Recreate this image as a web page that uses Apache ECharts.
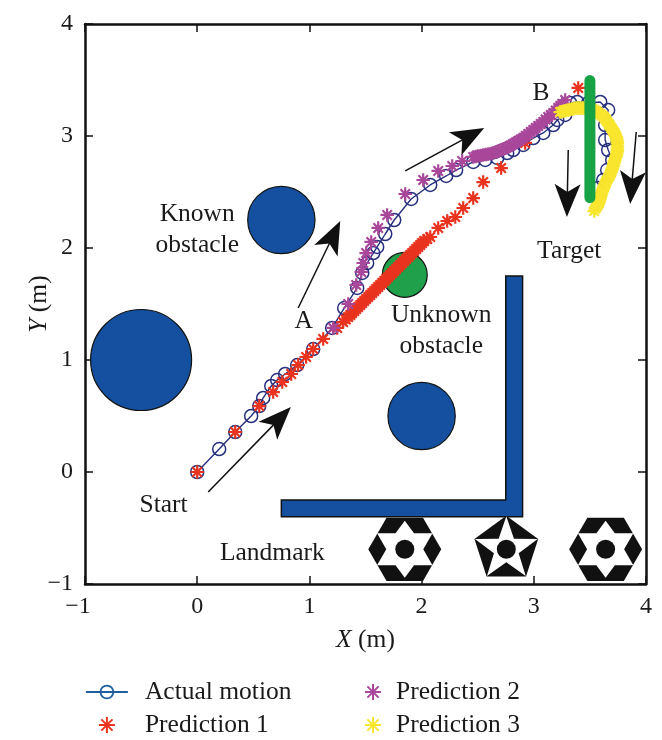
<!DOCTYPE html>
<html>
<head>
<meta charset="utf-8">
<style>html,body{margin:0;background:#fff;}#chart{width:662px;height:740px;}</style>
<script src="https://cdn.jsdelivr.net/npm/echarts@6/dist/echarts.min.js"></script>
</head>
<body>
<div id="chart"></div>
<script>
//	trajectories, metres
var actualMotion = [[0,0],[.196,.205],[.339,.357],[.481,.5],[.553,.589],[.588,.661],[.66,.768],[.713,.821],[.784,.875],[.891,.955],[1.034,1.098],[1.203,1.286],[1.31,1.464],[1.426,1.643],[1.471,1.777],[1.515,1.866],[1.569,1.955],[1.604,2.009],[1.676,2.125],[1.756,2.25],[1.907,2.438],[2.077,2.563],[2.219,2.643],[2.308,2.696],[2.46,2.768],[2.567,2.786],[2.674,2.804],[2.763,2.848],[2.816,2.875],[2.906,2.92],[2.995,2.982],[3.084,3.027],[3.173,3.098],[3.209,3.143],[3.28,3.188],[3.324,3.295],[3.387,3.304],[3.485,3.295],[3.592,3.304],[3.663,3.232],[3.636,3.098],[3.636,2.964],[3.663,2.875],[3.699,2.786],[3.654,2.696],[3.619,2.607],[3.574,2.536]];
var prediction1 = [[0,0],[.339,.357],[.553,.589],[.677,.714],[.758,.804],[.838,.875],[.9,.955],[.971,1.027],[1.034,1.098],[1.123,1.188],[1.248,1.286],[1.301,1.339],[1.325,1.362],[1.346,1.384],[1.365,1.402],[1.381,1.42],[1.4,1.438],[1.417,1.455],[1.435,1.473],[1.453,1.491],[1.47,1.509],[1.488,1.527],[1.506,1.545],[1.524,1.563],[1.542,1.58],[1.56,1.598],[1.578,1.616],[1.595,1.634],[1.613,1.652],[1.631,1.67],[1.649,1.688],[1.667,1.705],[1.685,1.723],[1.702,1.741],[1.72,1.759],[1.738,1.777],[1.756,1.795],[1.774,1.813],[1.792,1.83],[1.809,1.848],[1.827,1.866],[1.845,1.884],[1.863,1.902],[1.881,1.92],[1.899,1.938],[1.916,1.955],[1.934,1.973],[1.952,1.991],[1.97,2.009],[1.988,2.027],[2.005,2.045],[2.023,2.063],[2.05,2.08],[2.077,2.098],[2.148,2.179],[2.228,2.241],[2.3,2.277],[2.371,2.357],[2.46,2.446],[2.549,2.589],[2.709,2.714],[2.923,2.938],[3.396,3.429]];
var prediction2 = [[1.212,1.286],[1.346,1.5],[1.417,1.67],[1.462,1.786],[1.48,1.866],[1.506,1.955],[1.551,2.054],[1.613,2.179],[1.693,2.295],[1.854,2.482],[2.014,2.607],[2.148,2.688],[2.273,2.732],[2.362,2.777],[2.46,2.813],[2.482,2.817],[2.504,2.821],[2.527,2.826],[2.549,2.83],[2.572,2.835],[2.594,2.839],[2.616,2.844],[2.638,2.848],[2.661,2.857],[2.683,2.866],[2.705,2.875],[2.727,2.884],[2.75,2.893],[2.772,2.902],[2.794,2.915],[2.816,2.929],[2.839,2.942],[2.861,2.955],[2.884,2.969],[2.906,2.982],[2.928,3.0],[2.95,3.018],[2.973,3.036],[2.995,3.054],[3.017,3.071],[3.039,3.089],[3.062,3.107],[3.084,3.125],[3.106,3.147],[3.128,3.17],[3.151,3.188],[3.173,3.205],[3.195,3.228],[3.217,3.25],[3.235,3.268],[3.253,3.286],[3.28,3.321]];
var prediction3 = [[3.235,3.214],[3.253,3.218],[3.271,3.223],[3.289,3.228],[3.307,3.232],[3.325,3.237],[3.342,3.241],[3.36,3.246],[3.378,3.25],[3.396,3.25],[3.414,3.25],[3.432,3.25],[3.449,3.25],[3.467,3.25],[3.485,3.25],[3.502,3.246],[3.52,3.241],[3.538,3.232],[3.556,3.223],[3.574,3.21],[3.592,3.196],[3.605,3.186],[3.62,3.175],[3.632,3.16],[3.645,3.145],[3.655,3.125],[3.67,3.105],[3.68,3.09],[3.692,3.07],[3.705,3.05],[3.718,3.03],[3.727,3.01],[3.736,2.99],[3.741,2.97],[3.745,2.95],[3.745,2.933],[3.745,2.911],[3.745,2.888],[3.745,2.866],[3.741,2.844],[3.736,2.821],[3.727,2.799],[3.718,2.777],[3.713,2.755],[3.709,2.732],[3.7,2.71],[3.692,2.688],[3.683,2.665],[3.674,2.643],[3.66,2.62],[3.647,2.598],[3.638,2.576],[3.629,2.554],[3.62,2.531],[3.611,2.509],[3.602,2.487],[3.597,2.464],[3.592,2.442],[3.585,2.42],[3.578,2.397],[3.565,2.375],[3.55,2.352],[3.538,2.33]];

//	scene
var obstacleX = [-0.5, 0.75, 2];
var obstacleY = [1, 2.25, 0.5];
var obstacleR = [0.45, 0.3, 0.3];
var unknownObstacle = [[1.85, 1.76, 0.2]];
var wallX = [0.75, 2.75, 2.75, 2.9, 2.9, 0.75];
var wallY = [-0.25, -0.25, 1.75, 1.75, -0.4, -0.4];
var targetBar = [[3.5, 3.495], [3.5, 2.45]];
var landmarkX = [1.85, 2.755, 3.64];
var landmarkY = [-0.69, -0.69, -0.69];
var landmarkKind = ['hex', 'penta', 'hex'];
var arrowFrom = [[.098,-.179],[.9,1.464],[1.854,2.688],[3.307,2.875],[3.913,3.036]];
var arrowTo = [[.835,.58],[1.275,2.241],[2.558,3.071],[3.295,2.277],[3.859,2.393]];
var noteText = ['Known\nobstacle', 'Unknown\nobstacle', 'A', 'B', 'Target', 'Start', 'Landmark'];
var noteX = [0, 2.175, .95, 3.065, 3.316, -.3, .67];
var noteY = [2.16, 1.26, 1.35, 3.38, 1.97, -.3, -.725];

var fontName = '"Liberation Serif", serif';
var textColor = '#1a1a1a';
var blue = '#14509f';
var star = 'path://M0 -10L0 10M-10 0L10 0M-7 -7L7 7M-7 7L7 -7';

var myChart = echarts.init(document.getElementById('chart'));

function starSeries(name, data, color) {
	return {
		name: name,
		type: 'scatter',
		z: 2,
		data: data,
		symbol: star,
		symbolSize: 13.5,
		itemStyle: {color: 'rgba(0,0,0,0)', borderColor: color, borderWidth: 2.2, opacity: 1},
		silent: true
	};
}

//	white star inside a hexagon, side tips reach further than top and bottom ones
function hexagram(cx, cy) {
	var pts = [];
	for(var i=0; i<12; i++) {
		var a = -Math.PI/2 + i*Math.PI/6;
		var r = (i%6 == 0) ? 28.5 : (i%2 == 0 ? 32 : 18.5);
		pts.push([cx + r*Math.cos(a), cy + r*Math.sin(a)]);
	}
	return pts;
}

function radial(cx, cy, n, r1, r2) {
	var pts = [];
	for(var i=0; i<n; i++) {
		var a = -Math.PI/2 + i*2*Math.PI/n;
		var r = (i%2 == 0) ? r1 : r2;
		pts.push([cx + r*Math.cos(a), cy + r*Math.sin(a)]);
	}
	return pts;
}

function hexagon(cx, cy, r) {
	var pts = [];
	for(var i=0; i<6; i++) {
		pts.push([cx + r*Math.cos(i*Math.PI/3), cy + r*Math.sin(i*Math.PI/3)]);
	}
	return pts;
}

function landmarkItem(params, api) {
	var c = api.coord([api.value(0), api.value(1)]);
	var kind = landmarkKind[params.dataIndex];
	var outer = kind == 'hex' ? hexagon(c[0], c[1], 36.5) : radial(c[0], c[1], 5, 33.5, 33.5);
	var inner = kind == 'hex' ? hexagram(c[0], c[1]) : radial(c[0], c[1], 10, 33, 13);
	return {type: 'group', children: [
		{type: 'polygon', shape: {points: outer}, style: {fill: '#111'}},
		{type: 'polygon', shape: {points: inner}, style: {fill: '#fff'}},
		{type: 'circle', shape: {cx: c[0], cy: c[1], r: 9.5}, style: {fill: '#111'}}
	]};
}

function circleItem(color) {
	return function(params, api) {
		var c = api.coord([api.value(0), api.value(1)]);
		var r = api.size([api.value(2), 0])[0];
		return {type: 'circle', shape: {cx: c[0], cy: c[1], r: r}, style: {fill: color, stroke: '#111', lineWidth: 1.2}};
	};
}

function arrowItem(params, api) {
	var a = api.coord([api.value(0), api.value(1)]);
	var b = api.coord([api.value(2), api.value(3)]);
	var d = Math.sqrt((b[0]-a[0])*(b[0]-a[0]) + (b[1]-a[1])*(b[1]-a[1]));
	var ux = (b[0]-a[0])/d, uy = (b[1]-a[1])/d;
	return {type: 'group', children: [
		{type: 'line', shape: {x1: a[0], y1: a[1], x2: b[0]-20*ux, y2: b[1]-20*uy}, style: {stroke: '#111', lineWidth: 1.5}},
		{type: 'polygon', shape: {points: [
			[b[0], b[1]],
			[b[0]-33*ux-13*uy, b[1]-33*uy+13*ux],
			[b[0]-25*ux, b[1]-25*uy],
			[b[0]-33*ux+13*uy, b[1]-33*uy-13*ux]
		]}, style: {fill: '#111'}}
	]};
}

function tickLabel(v) {
	return v < 0 ? '\u2212' + Math.abs(v) : v;
}

var legendCommon = {orient: 'vertical', top: 679, height: 61, padding: 0, itemHeight: 16, itemGap: 7};
var lineKey = {color: 'rgba(0,0,0,0)', borderColor: '#1f5f9e', borderWidth: 1.8};

var option = {
	animation: false,
	backgroundColor: '#fff',
	textStyle: {fontFamily: fontName, color: textColor},
	grid: {left: 85, top: 24, width: 561, height: 560},
	legend: [
		Object.assign({}, legendCommon, {
			left: 85, itemWidth: 42,
			textStyle: {fontFamily: fontName, fontSize: 25.5, color: textColor, padding: [0, 0, 0, 12]},
			data: [
				{name: 'Actual motion', itemStyle: lineKey, lineStyle: {color: '#1f5f9e', width: 1.8}},
				{name: 'Prediction 1', icon: star}
			]
		}),
		Object.assign({}, legendCommon, {
			left: 364, itemWidth: 36,
			textStyle: {fontFamily: fontName, fontSize: 25.5, color: textColor},
			data: [
				{name: 'Prediction 2', icon: star},
				{name: 'Prediction 3', icon: star}
			]
		})
	],
	xAxis: [
		{
			type: 'value', min: -1, max: 4, interval: 1, position: 'bottom',
			name: '{i|X} (m)', nameLocation: 'middle', nameGap: 43,
			nameTextStyle: {fontFamily: fontName, fontSize: 25.5, color: textColor,
				rich: {i: {fontFamily: fontName, fontStyle: 'italic', fontSize: 25.5, color: textColor}}},
			axisLine: {onZero: false, lineStyle: {color: '#111', width: 2.5}},
			axisTick: {inside: true, length: 8, lineStyle: {color: '#111', width: 1.5}},
			axisLabel: {fontFamily: fontName, fontSize: 24, color: textColor, margin: 11,
				formatter: function(v) {return v < 0 ? '{neg|' + tickLabel(v) + '}' : v;},
				rich: {neg: {fontFamily: fontName, fontSize: 24, color: textColor, padding: [0, 14, 0, 0]}}},
			splitLine: {show: false}
		},
		{
			type: 'value', min: -1, max: 4, interval: 1, position: 'top',
			axisLine: {onZero: false, lineStyle: {color: '#111', width: 2.5}},
			axisTick: {inside: true, length: 8, lineStyle: {color: '#111', width: 1.5}},
			axisLabel: {show: false},
			splitLine: {show: false}
		}
	],
	yAxis: [
		{
			type: 'value', min: -1, max: 4, interval: 1, position: 'left',
			name: '{i|Y} (m)', nameLocation: 'middle', nameGap: 33, nameMoveOverlap: false,
			nameTextStyle: {fontFamily: fontName, fontSize: 25.5, color: textColor,
				rich: {i: {fontFamily: fontName, fontStyle: 'italic', fontSize: 25.5, color: textColor}}},
			axisLine: {onZero: false, lineStyle: {color: '#111', width: 2.5}},
			axisTick: {inside: true, length: 8, lineStyle: {color: '#111', width: 1.5}},
			axisLabel: {fontFamily: fontName, fontSize: 24, color: textColor, margin: 12, formatter: tickLabel},
			splitLine: {show: false}
		},
		{
			type: 'value', min: -1, max: 4, interval: 1, position: 'right',
			axisLine: {onZero: false, lineStyle: {color: '#111', width: 2.5}},
			axisTick: {inside: true, length: 8, lineStyle: {color: '#111', width: 1.5}},
			axisLabel: {show: false},
			splitLine: {show: false}
		}
	],
	series: [
		{
			name: 'known', type: 'custom', silent: true, z: 2,
			data: obstacleX.map(function(x, i) {return [x, obstacleY[i], obstacleR[i]];}),
			renderItem: circleItem(blue)
		},
		{
			name: 'unknown', type: 'custom', silent: true, z: 2,
			data: unknownObstacle,
			renderItem: circleItem('#20a04a')
		},
		{
			name: 'wall', type: 'custom', silent: true, z: 2,
			data: [[wallX[0], wallY[0]]],
			renderItem: function(params, api) {
				var pts = wallX.map(function(x, i) {return api.coord([x, wallY[i]]);});
				return {type: 'polygon', shape: {points: pts}, style: {fill: blue, stroke: '#111', lineWidth: 1.5}};
			}
		},
		{
			name: 'landmark', type: 'custom', silent: true, z: 2,
			data: landmarkX.map(function(x, i) {return [x, landmarkY[i]];}),
			renderItem: landmarkItem
		},
		{
			name: 'Actual motion',
			type: 'line',
			z: 2,
			data: actualMotion,
			symbol: 'circle',
			symbolSize: 13,
			showSymbol: true,
			lineStyle: {color: '#27307f', width: 1.4},
			itemStyle: {color: 'rgba(0,0,0,0)', borderColor: '#27307f', borderWidth: 1.5},
			silent: true
		},
		starSeries('Prediction 1', prediction1, '#e9331f'),
		starSeries('Prediction 2', prediction2, '#a9479a'),
		starSeries('Prediction 3', prediction3, '#f8e52d'),
		{
			name: 'target', type: 'line', data: targetBar, symbol: 'none', silent: true, z: 4,
			lineStyle: {color: '#17a345', width: 11, cap: 'round'}
		},
		{
			name: 'arrow', type: 'custom', silent: true, z: 5,
			data: arrowFrom.map(function(p, i) {return [p[0], p[1], arrowTo[i][0], arrowTo[i][1]];}),
			renderItem: arrowItem
		},
		{
			name: 'note', type: 'custom', silent: true, z: 5,
			data: noteX.map(function(x, i) {return [x, noteY[i]];}),
			renderItem: function(params, api) {
				var c = api.coord([api.value(0), api.value(1)]);
				return {type: 'text', style: {
					text: noteText[params.dataIndex], x: c[0], y: c[1],
					align: 'center', verticalAlign: 'middle',
					fontFamily: fontName, fontSize: 25.5, lineHeight: 31, fill: textColor
				}};
			}
		}
	]
};

myChart.setOption(option);
</script>
</body>
</html>
